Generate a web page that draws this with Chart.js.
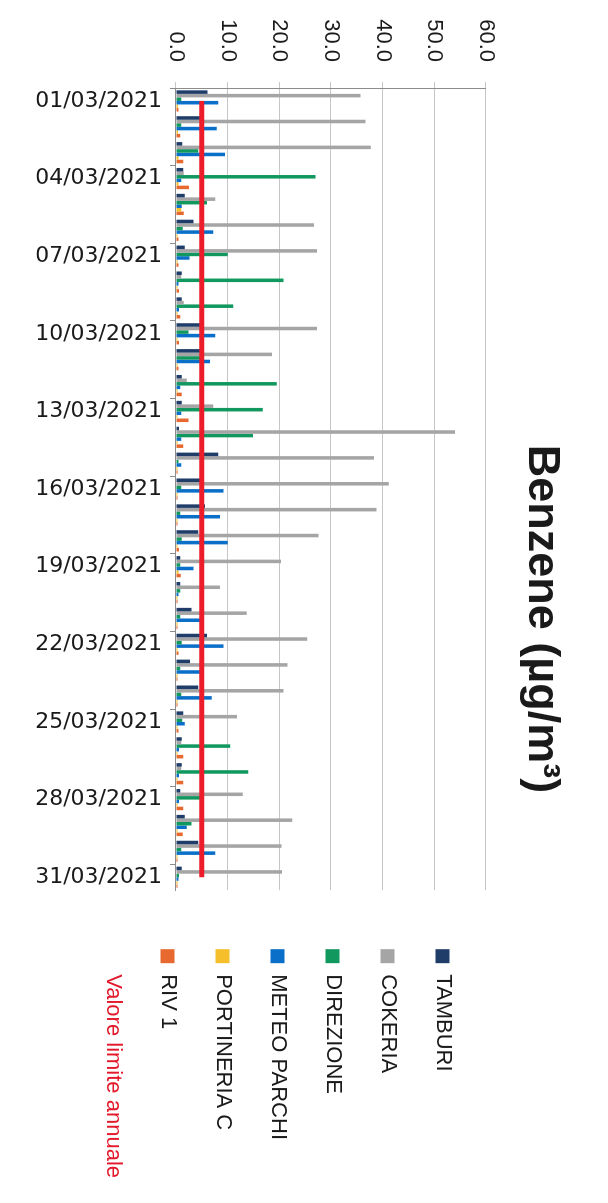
<!DOCTYPE html>
<html>
<head>
<meta charset="utf-8">
<script src="https://cdn.jsdelivr.net/npm/chart.js@4.4.1/dist/chart.umd.min.js"></script>
<style>
  html, body { margin: 0; padding: 0; background: #fff; overflow: hidden; }
  /* the scanned chart is a landscape chart turned a quarter turn clockwise */
  #wrap {
    position: absolute; left: 0; top: 0;
    width: 1203px; height: 608px;
    transform-origin: 0 0;
    transform: translate(608px, 0) rotate(90deg);
  }
</style>
</head>
<body>
<div id="wrap"><canvas id="benzeneChart" width="1203" height="608"></canvas></div>
<script>
var days = ["01/03/2021","02/03/2021","03/03/2021","04/03/2021","05/03/2021","06/03/2021","07/03/2021",
  "08/03/2021","09/03/2021","10/03/2021","11/03/2021","12/03/2021","13/03/2021","14/03/2021",
  "15/03/2021","16/03/2021","17/03/2021","18/03/2021","19/03/2021","20/03/2021","21/03/2021",
  "22/03/2021","23/03/2021","24/03/2021","25/03/2021","26/03/2021","27/03/2021","28/03/2021",
  "29/03/2021","30/03/2021","31/03/2021"];

var tamburi    = [6.1,4.7,1.2,1.4,1.7,3.4,1.7,1.1,1.1,4.7,5.0,1.1,1.1,0.6,8.2,4.7,5.6,4.3,0.8,0.8,3.0,6.0,2.7,4.3,1.4,1.1,1.1,0.8,1.7,4.3,1.1];
var cokeria    = [35.7,36.7,37.7,1.5,7.6,26.7,27.3,1.0,1.5,27.3,18.6,2.1,7.2,54.0,38.3,41.2,38.8,27.6,20.3,8.5,13.7,25.4,21.6,20.8,11.8,1.0,1.0,12.9,22.5,20.4,20.5];
var direzione  = [1.0,1.0,4.3,27.0,6.0,1.3,10.0,20.8,11.1,2.4,5.3,19.5,16.8,14.9,0.5,1.0,0.8,1.1,0.8,0.8,0.8,1.1,0.8,1.0,1.2,10.5,14.0,5.0,3.0,1.0,0.6];
var meteoParchi = [8.2,7.9,9.5,1.0,1.1,7.2,2.6,0.5,0.6,7.6,6.6,0.8,1.0,1.0,1.0,9.2,8.5,10.0,3.4,0.5,5.3,9.2,4.7,6.9,1.7,0.6,0.6,0.6,2.1,7.6,0.5];
var portineria = [0.4,0.4,0.5,0.5,1.0,0.3,0.3,0.3,0.3,0.3,0.3,0.3,0.3,0.3,0.3,0.3,0.3,0.3,0.5,0.3,0.3,0.3,0.3,0.3,0.3,0.3,0.3,0.3,0.3,0.3,0.3];
var riv1       = [0.5,0.8,1.4,2.5,1.5,0.5,0.5,0.6,0.8,0.6,0.5,1.1,2.4,1.4,0.3,0.3,0.3,0.6,0.9,0.3,0.3,0.5,0.3,0.3,0.5,1.4,1.4,1.4,1.3,0.3,0.3];
var limite     = [5,5,5,5,5,5,5,5,5,5,5,5,5,5,5,5,5,5,5,5,5,5,5,5,5,5,5,5,5,5,5];
var valueTicks = [0, 10, 20, 30, 40, 50, 60];

// empty layout box that leaves a gap between the plot and the legend
// (display:false so it does not shrink the width the legend may take)
var legendGap = {
  id: "legendGap",
  beforeInit: function(chart) {
    Chart.layouts.addBox(chart, {
      position: "right", weight: 500, fullSize: false, options: { display: false },
      left: 0, top: 0, right: 0, bottom: 0, width: 0, height: 0,
      update: function(maxW, maxH) { this.width = 26; this.height = maxH; },
      isHorizontal: function() { return false; },
      draw: function() {}
    });
  },
  // the original title sits a bit right of the canvas centre
  afterLayout: function(chart) {
    if (chart.titleBlock) { chart.titleBlock.left += 25; chart.titleBlock.right += 25; }
  }
};

new Chart("benzeneChart", {
  type: "bar",
  data: {
    labels: days,
    datasets: [
      { label: "TAMBURI", data: tamburi, backgroundColor: "#1f3d68" },
      { label: "COKERIA", data: cokeria, backgroundColor: "#a5a5a5" },
      { label: "DIREZIONE", data: direzione, backgroundColor: "#11985f" },
      { label: "METEO PARCHI", data: meteoParchi, backgroundColor: "#0a6fc9" },
      { label: "PORTINERIA C", data: portineria, backgroundColor: "#f4bf2a" },
      { label: "RIV 1", data: riv1, backgroundColor: "#e8692f" },
      { label: "Valore limite annuale", data: limite, type: "line", borderColor: "#ec1c2b",
        backgroundColor: "#ec1c2b", borderWidth: 5, pointRadius: 0, order: -1 }
    ]
  },
  options: {
    responsive: false,
    animation: false,
    layout: { padding: { right: 15 } },
    datasets: { bar: { categoryPercentage: 0.82, barPercentage: 1.0 } },
    plugins: {
      tooltip: { enabled: false },
      title: {
        display: true,
        text: "Benzene (µg/m³)",
        color: "#1a1a1a",
        font: { family: "Liberation Sans", size: 45, weight: "bold" },
        padding: { top: 40, bottom: 28 }
      },
      legend: {
        position: "right",
        align: "start",
        title: { display: true, text: " ", font: { size: 12 }, padding: { top: 107, bottom: 0 } },
        labels: {
          boxWidth: 14, boxHeight: 14, padding: 33, color: "#1a1a1a",
          font: { family: "Liberation Sans", size: 22 },
          generateLabels: function(chart) {
            var items = Chart.defaults.plugins.legend.labels.generateLabels(chart);
            items.sort(function(a, b) { return a.datasetIndex - b.datasetIndex; });
            items.forEach(function(it) {
              it.lineWidth = 0;
              if (it.text === "Valore limite annuale") {
                it.fillStyle = "rgba(0,0,0,0)";
                it.strokeStyle = "rgba(0,0,0,0)";
                it.fontColor = "#e3192b";
              }
            });
            return items;
          }
        }
      }
    },
    scales: {
      x: {
        grid: {
          offset: true, drawOnChartArea: false, tickLength: 6,
          color: function(c) { return c.index % 3 === 0 ? "#8c8c8c" : "rgba(0,0,0,0)"; }
        },
        border: { color: "#8c8c8c" },
        ticks: {
          autoSkip: false, minRotation: 90, maxRotation: 90, padding: 8,
          color: "#1a1a1a",
          font: { family: "DejaVu Sans", size: 22 },
          callback: function(v, i) { return i % 3 === 0 ? days[i] : ""; }
        },
        afterFit: function(s) { s.height = 176; }
      },
      y: {
        min: valueTicks[0], max: valueTicks[valueTicks.length - 1],
        afterBuildTicks: function(s) { s.ticks = valueTicks.map(function(v) { return { value: v }; }); },
        grid: { color: "#c6c6c6", tickLength: 6 },
        border: { color: "#8c8c8c" },
        ticks: {
          padding: 20, color: "#1a1a1a",
          font: { family: "Liberation Sans", size: 22 },
          callback: function(v) { return v.toFixed(1); }
        },
        afterFit: function(s) { s.width = 88; }
      }
    }
  },
  plugins: [legendGap]
});
</script>
</body>
</html>
